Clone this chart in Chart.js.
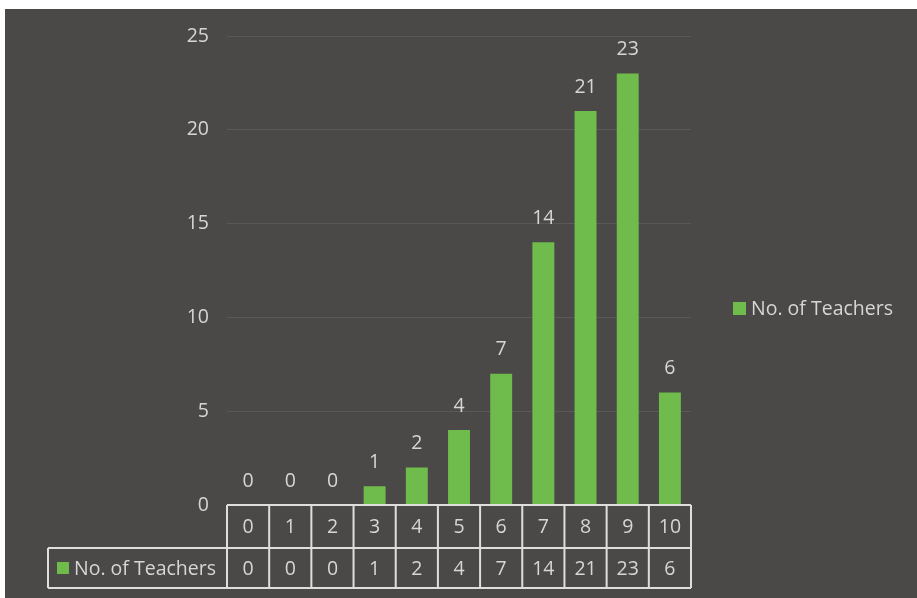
<!DOCTYPE html>
<html>
<head>
<meta charset="utf-8">
<script src="https://cdn.jsdelivr.net/npm/chart.js@4/dist/chart.umd.min.js"></script>
<style>
  html, body { margin: 0; padding: 0; background: #ffffff; }
  #wrap { width: 917px; height: 598px; }
</style>
</head>
<body>
<div id="wrap"><canvas id="chart" width="917" height="598"></canvas></div>
<script>
var categories = ['0', '1', '2', '3', '4', '5', '6', '7', '8', '9', '10'];
var teachers = [0, 0, 0, 1, 2, 4, 7, 14, 21, 23, 6];
var seriesName = 'No. of Teachers';

var bgColor = '#4a4947';
var barColor = '#6fbb4b';
var textColor = '#d6d6d4';
var lineColor = '#dededc';
var font = '"Open Sans", Lato, sans-serif';
var fontSize = 19.5;

// dark card behind everything, scan leaves a white strip on top/left
var backdrop = {
  id: 'backdrop',
  beforeDraw: function(chart) {
    var ctx = chart.ctx;
    ctx.save();
    ctx.fillStyle = '#ffffff';
    ctx.fillRect(0, 0, chart.width, chart.height);
    ctx.fillStyle = bgColor;
    ctx.fillRect(5, 9, chart.width - 5, chart.height - 9);
    ctx.restore();
  }
};

// value labels above the bars
var barLabels = {
  id: 'barLabels',
  afterDatasetsDraw: function(chart) {
    var ctx = chart.ctx;
    var meta = chart.getDatasetMeta(0);
    ctx.save();
    ctx.fillStyle = textColor;
    ctx.font = fontSize + 'px ' + font;
    ctx.textAlign = 'center';
    ctx.textBaseline = 'middle';
    meta.data.forEach(function(bar, i) {
      ctx.fillText(String(teachers[i]), bar.x, bar.y - 24);
    });
    ctx.restore();
  }
};

// excel style data table under the plot
var dataTable = {
  id: 'dataTable',
  afterDraw: function(chart) {
    var ctx = chart.ctx;
    var area = chart.chartArea;
    var x = chart.scales.x;
    var step = (area.right - area.left) / categories.length;
    var top = area.bottom;
    var mid = top + 43;
    var bot = mid + 40;
    var headLeft = 48;

    ctx.save();
    ctx.strokeStyle = lineColor;
    ctx.lineWidth = 2;
    ctx.beginPath();
    ctx.moveTo(area.left, top); ctx.lineTo(area.right, top);
    ctx.moveTo(headLeft, mid); ctx.lineTo(area.right, mid);
    ctx.moveTo(headLeft, bot); ctx.lineTo(area.right, bot);
    ctx.moveTo(headLeft, mid); ctx.lineTo(headLeft, bot);
    for (var i = 0; i <= categories.length; i++) {
      var lx = area.left + i * step;
      ctx.moveTo(lx, top); ctx.lineTo(lx, bot);
    }
    ctx.stroke();

    ctx.fillStyle = textColor;
    ctx.font = fontSize + 'px ' + font;
    ctx.textAlign = 'center';
    ctx.textBaseline = 'middle';
    categories.forEach(function(c, i) {
      var cx = x.getPixelForValue(i);
      ctx.fillText(c, cx, (top + mid) / 2 + 1);
      ctx.fillText(String(teachers[i]), cx, (mid + bot) / 2 + 1);
    });

    ctx.fillStyle = barColor;
    ctx.fillRect(57, (mid + bot) / 2 - 6, 12, 12);
    ctx.fillStyle = textColor;
    ctx.textAlign = 'left';
    ctx.fillText(seriesName, 74, (mid + bot) / 2 + 1);

    // legend on the right
    ctx.fillStyle = barColor;
    ctx.fillRect(733, 302, 13, 13);
    ctx.fillStyle = textColor;
    ctx.fillText(seriesName, 751, 309);
    ctx.restore();
  }
};

new Chart(document.getElementById('chart'), {
  type: 'bar',
  data: {
    labels: categories,
    datasets: [{
      label: seriesName,
      data: teachers,
      backgroundColor: barColor,
      borderWidth: 0,
      categoryPercentage: 1,
      barPercentage: 0.52
    }]
  },
  options: {
    responsive: false,
    animation: false,
    layout: { padding: { left: 0, right: 226, top: 36, bottom: 93 } },
    plugins: {
      legend: { display: false },
      tooltip: { enabled: false }
    },
    scales: {
      x: { display: false },
      y: {
        min: 0,
        max: 25,
        afterFit: function(scale) { scale.width = 227; },
        ticks: {
          stepSize: 5,
          padding: 18,
          color: textColor,
          font: { family: font, size: fontSize }
        },
        grid: { color: 'rgba(255,255,255,0.09)', drawTicks: false },
        border: { display: false }
      }
    }
  },
  plugins: [backdrop, barLabels, dataTable]
});
</script>
</body>
</html>
